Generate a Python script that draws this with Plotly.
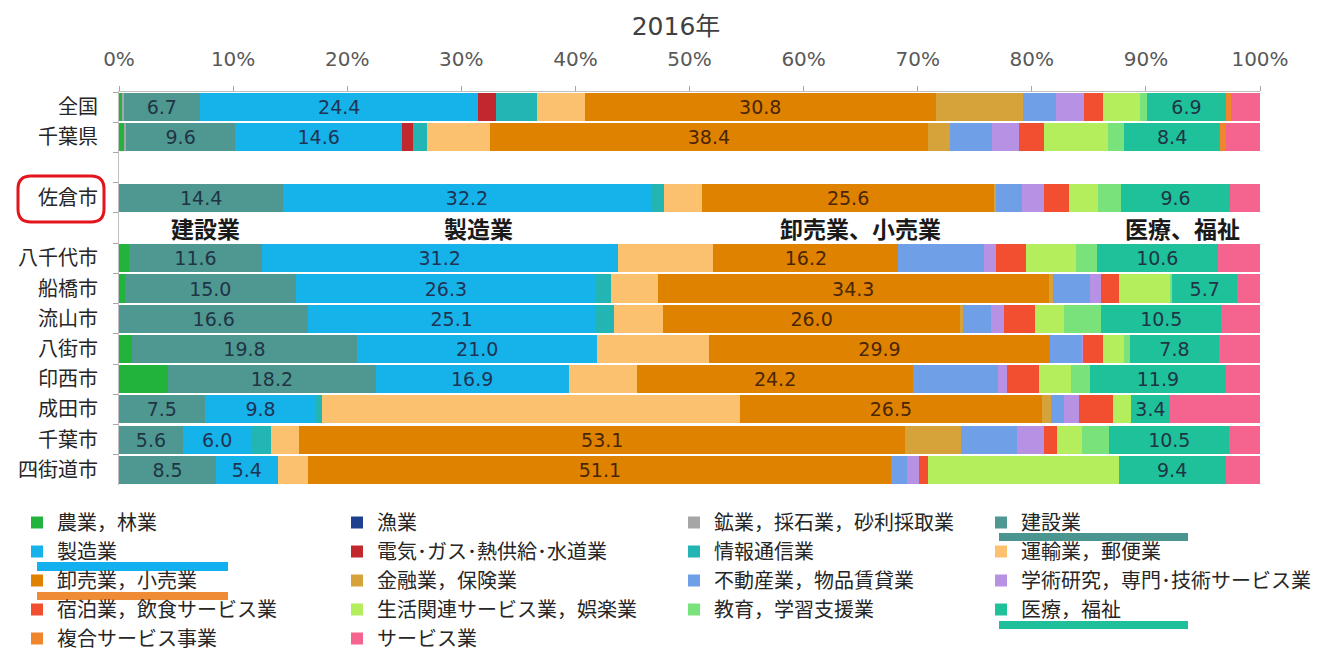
import plotly.graph_objects as go

# ---------------- data ----------------
regions = ["全国", "千葉県", "佐倉市", "八千代市", "船橋市", "流山市", "八街市",
           "印西市", "成田市", "千葉市", "四街道市"]
gap1 = " "
gap2 = "  "
category_order = ["全国", "千葉県", gap1, "佐倉市", gap2, "八千代市", "船橋市", "流山市",
                  "八街市", "印西市", "成田市", "千葉市", "四街道市"]

industries = ["農業，林業", "漁業", "鉱業，採石業，砂利採取業", "建設業",
              "製造業", "電気･ガス･熱供給･水道業", "情報通信業", "運輸業，郵便業",
              "卸売業，小売業", "金融業，保険業", "不動産業，物品賃貸業", "学術研究，専門･技術サービス業",
              "宿泊業，飲食サービス業", "生活関連サービス業，娯楽業", "教育，学習支援業", "医療，福祉",
              "複合サービス事業", "サービス業"]

agri       = [0.3, 0.5, 0.0, 0.9, 0.5, 0.0, 1.1, 4.3, 0.0, 0.0, 0.0]
fishing    = [0.0, 0.0, 0.0, 0.0, 0.0, 0.0, 0.0, 0.0, 0.0, 0.0, 0.0]
mining     = [0.1, 0.1, 0.0, 0.0, 0.0, 0.0, 0.0, 0.0, 0.0, 0.0, 0.0]
construct  = [6.7, 9.6, 14.4, 11.6, 15.0, 16.6, 19.8, 18.2, 7.5, 5.6, 8.5]
manufact   = [24.4, 14.6, 32.2, 31.2, 26.3, 25.1, 21.0, 16.9, 9.8, 6.0, 5.4]
utility    = [1.5, 1.0, 0.0, 0.0, 0.0, 0.0, 0.0, 0.0, 0.0, 0.0, 0.0]
infocom    = [3.6, 1.2, 1.2, 0.0, 1.3, 1.7, 0.0, 0.0, 0.5, 1.7, 0.0]
transport  = [4.2, 5.5, 3.3, 8.4, 4.1, 4.3, 9.8, 6.0, 36.6, 2.5, 2.7]
wholesale  = [30.8, 38.4, 25.6, 16.2, 34.3, 26.0, 29.9, 24.2, 26.5, 53.1, 51.1]
finance    = [7.6, 1.9, 0.2, 0.0, 0.4, 0.3, 0.0, 0.0, 0.8, 4.9, 0.0]
realestate = [2.9, 3.7, 2.2, 7.5, 3.2, 2.4, 2.8, 7.4, 1.1, 4.9, 1.4]
academic   = [2.5, 2.4, 2.0, 1.1, 1.0, 1.2, 0.1, 0.8, 1.3, 2.4, 1.0]
hotel      = [1.6, 2.2, 2.2, 2.6, 1.5, 2.7, 1.7, 2.8, 3.0, 1.1, 0.8]
living     = [3.3, 5.6, 2.5, 4.4, 4.5, 2.5, 1.9, 2.8, 1.6, 2.2, 16.7]
education  = [0.6, 1.4, 2.0, 1.8, 0.2, 3.3, 0.5, 1.7, 0.0, 2.4, 0.0]
medical    = [6.9, 8.4, 9.6, 10.6, 5.7, 10.5, 7.8, 11.9, 3.4, 10.5, 9.4]
compound   = [0.5, 0.5, 0.0, 0.0, 0.0, 0.0, 0.0, 0.0, 0.0, 0.0, 0.0]
service    = [2.5, 3.0, 2.6, 3.7, 2.0, 3.4, 3.6, 3.0, 7.9, 2.7, 3.0]

series = [agri, fishing, mining, construct, manufact, utility, infocom, transport,
          wholesale, finance, realestate, academic, hotel, living, education, medical,
          compound, service]

colors = ["#22b33c", "#1f3f8f", "#a6a6a6", "#4f9892", "#16b2ea", "#c0282d", "#22b5b3",
          "#fbc16e", "#de8200", "#d6a23a", "#6f9fe6", "#b792e4", "#f24f30", "#b5ee5c",
          "#7ae27a", "#1fc19b", "#f0862c", "#f5638f"]

labeled = {"建設業": "#1f3444", "製造業": "#1f3454", "卸売業，小売業": "#4a2606", "医療，福祉": "#1f3444"}

tick_vals = [0, 10, 20, 30, 40, 50, 60, 70, 80, 90, 100]
tick_text = ["0%", "10%", "20%", "30%", "40%", "50%", "60%", "70%", "80%", "90%", "100%"]

# ---------------- layout geometry ----------------
# the page body has an 8px margin; positions below are given in screen pixels
OFF = 8
W, H = 1310, 645
ML, MR, MT, MB = 111, 58, 84, 168
PW = W - ML - MR
PH = H - MT - MB

def px_x(p):
    return (p - OFF - ML) / PW

def px_y(p):
    return (H - MB - (p - OFF)) / PH

JP = "Noto Sans CJK JP"
NUM = "DejaVu Sans, Noto Sans CJK JP"

fig = go.Figure()
legend_names = ["legend", "legend2", "legend3", "legend4"]
for i, (name, vals, col) in enumerate(zip(industries, series, colors)):
    kw = {}
    if name in labeled:
        kw = dict(text=vals, texttemplate="%{x:.1f}", textposition="inside",
                  insidetextanchor="middle", textangle=0,
                  textfont=dict(family=NUM, size=19, color=labeled[name]))
    fig.add_trace(go.Bar(
        x=vals, y=regions, orientation="h", name=name,
        marker=dict(color=col, line=dict(width=0)),
        legend=legend_names[i % 4], legendgroup=name,
        hoverinfo="skip", **kw))

legend_x_px = [17, 337, 674, 981]
legend_top_px = 503
for i, ln in enumerate(legend_names):
    fig.update_layout({ln: dict(
        x=px_x(legend_x_px[i]), xanchor="left",
        y=px_y(legend_top_px), yanchor="top",
        orientation="v", traceorder="grouped", tracegroupgap=0,
        font=dict(family=JP, size=20, color="#262626"),
        bgcolor="rgba(0,0,0,0)", borderwidth=0)})

shapes = []
def rect(x0, y0, x1, y1, color):
    return dict(type="rect", xref="paper", yref="paper",
                x0=px_x(x0), x1=px_x(x1), y0=px_y(y1), y1=px_y(y0),
                fillcolor=color, line=dict(width=0), layer="above")

shapes.append(rect(37, 562, 228, 571, "#12b0ee"))
shapes.append(rect(37, 592, 228, 600, "#ef8a35"))
shapes.append(rect(999, 533, 1188, 541, "#4a958f"))
shapes.append(rect(999, 621, 1188, 629, "#1fbf9c"))

def rounded(x0, y0, x1, y1, r):
    X = px_x
    Y = px_y
    pts = [
        f"M{X(x0 + r)},{Y(y0)}",
        f"L{X(x1 - r)},{Y(y0)}",
        f"Q{X(x1)},{Y(y0)} {X(x1)},{Y(y0 + r)}",
        f"L{X(x1)},{Y(y1 - r)}",
        f"Q{X(x1)},{Y(y1)} {X(x1 - r)},{Y(y1)}",
        f"L{X(x0 + r)},{Y(y1)}",
        f"Q{X(x0)},{Y(y1)} {X(x0)},{Y(y1 - r)}",
        f"L{X(x0)},{Y(y0 + r)}",
        f"Q{X(x0)},{Y(y0)} {X(x0 + r)},{Y(y0)}",
        "Z",
    ]
    return " ".join(pts)

shapes.append(dict(type="path", xref="paper", yref="paper",
                   path=rounded(18, 176, 104, 222, 13),
                   line=dict(color="#e3141c", width=3), fillcolor="rgba(0,0,0,0)"))

annotations = []
for txt, xv in [("建設業", 7.6), ("製造業", 31.5), ("卸売業、小売業", 65.0), ("医療、福祉", 93.2)]:
    annotations.append(dict(x=xv, y=gap2, xref="x", yref="y", text=txt, showarrow=False,
                            font=dict(family=JP, size=23, color="#1a1a1a", weight="bold"),
                            xanchor="center", yanchor="middle"))

fig.update_layout(
    width=W, height=H,
    margin=dict(l=ML, r=MR, t=MT, b=MB, autoexpand=False),
    barmode="stack", bargap=0.07,
    plot_bgcolor="white", paper_bgcolor="white",
    title=dict(text="2016年", x=px_x(676), xref="paper", xanchor="center",
               y=1 - (26 - OFF) / H, yref="container", yanchor="middle",
               font=dict(family=NUM, size=25, color="#404040")),
    xaxis=dict(side="top", range=[0, 100], tickmode="array", tickvals=tick_vals,
               ticktext=tick_text, showgrid=False, zeroline=False,
               showline=True, linecolor="#bfbfbf", linewidth=1,
               ticks="outside", ticklen=5, tickcolor="#a6a6a6",
               ticklabelstandoff=12,
               tickfont=dict(family=NUM, size=20, color="#595959")),
    yaxis=dict(type="category", categoryorder="array", categoryarray=category_order,
               autorange="reversed", showgrid=False, zeroline=False,
               showline=True, linecolor="#bfbfbf", linewidth=1,
               ticks="outside", ticklen=5, tickcolor="#a6a6a6", tickson="boundaries",
               ticklabelstandoff=16,
               tickfont=dict(family=JP, size=20, color="#262626")),
    shapes=shapes,
    annotations=annotations,
    showlegend=True,
)

fig.write_html("out.html")
